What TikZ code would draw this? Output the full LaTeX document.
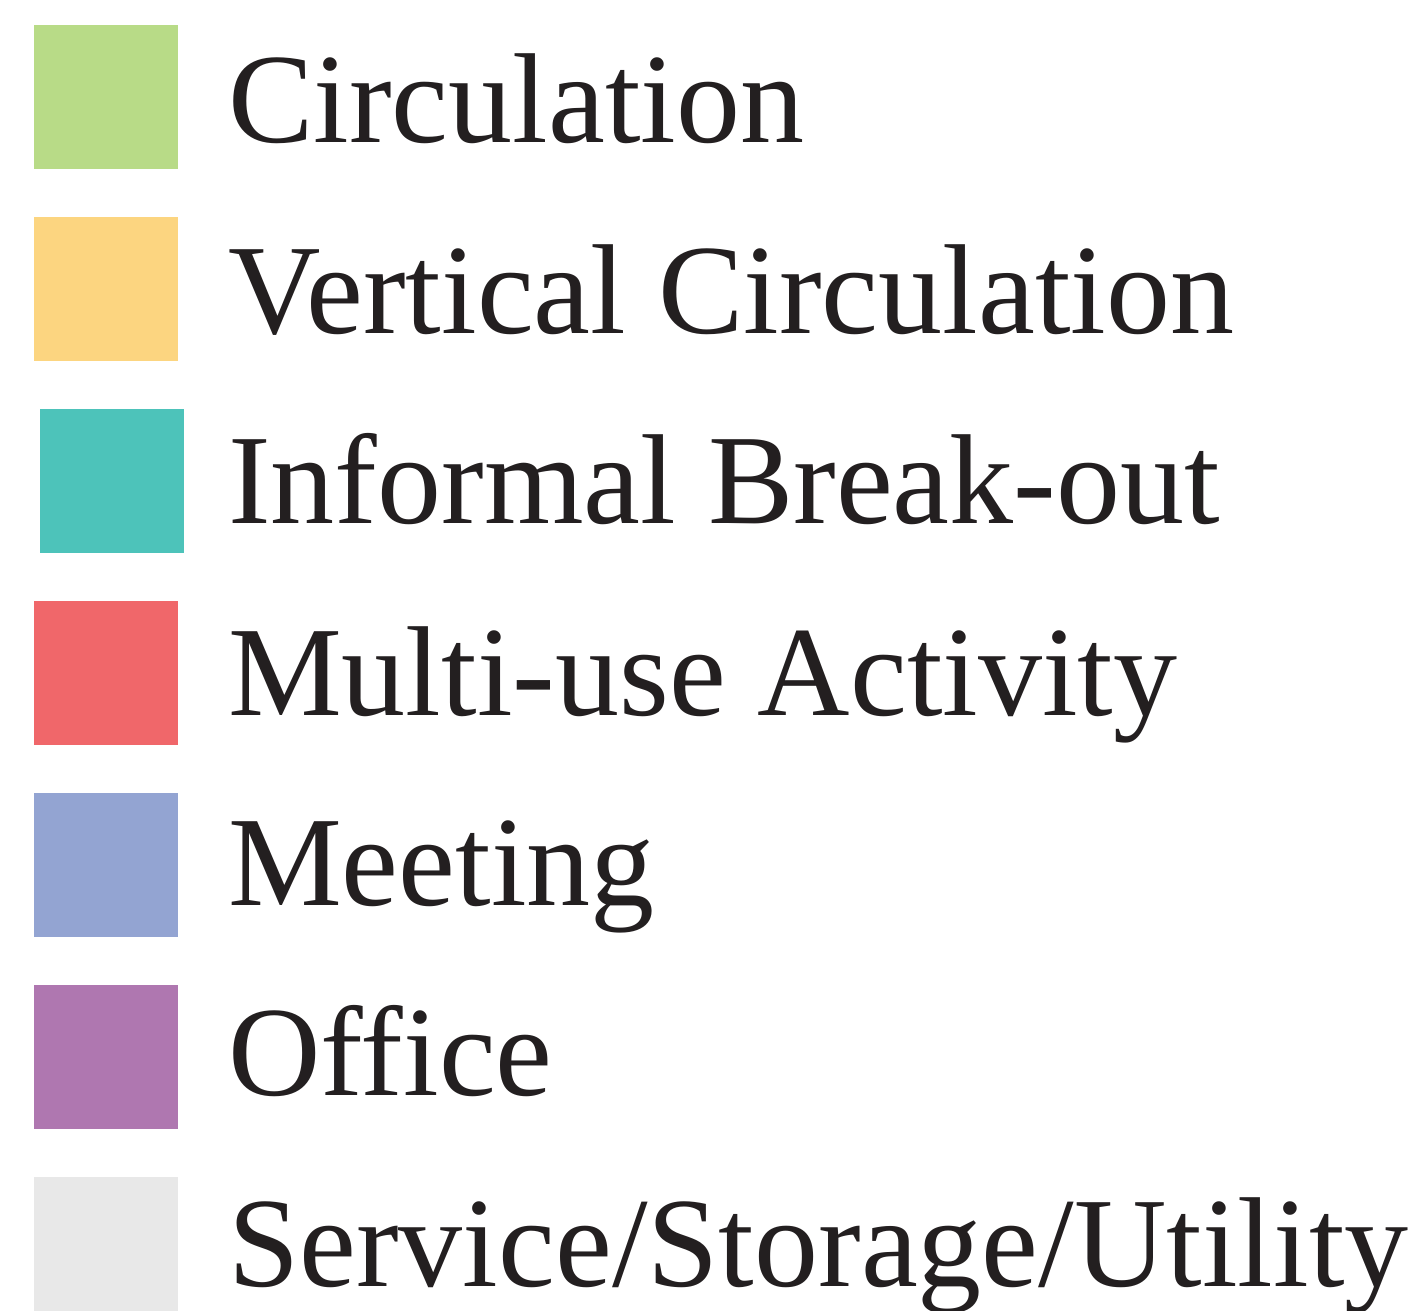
\documentclass[tikz,border=0pt]{standalone}
\usepackage{fontspec}
\setmainfont{Liberation Serif}
\definecolor{cCirc}{HTML}{B8DB87}
\definecolor{cVert}{HTML}{FCD580}
\definecolor{cInf}{HTML}{4DC3BA}
\definecolor{cMulti}{HTML}{F0676A}
\definecolor{cMeet}{HTML}{93A4D2}
\definecolor{cOff}{HTML}{AF77B0}
\definecolor{cServ}{HTML}{E8E8E8}
\definecolor{ink}{HTML}{231F20}
\begin{document}
\begin{tikzpicture}[x=1pt,y=-1pt,
  swatch/.style={draw=none,minimum width=144pt,minimum height=144pt,inner sep=0pt,anchor=north west},
  label/.style={anchor=base west,inner sep=0pt,text=ink,font=\fontsize{128}{140}\selectfont}]
\useasboundingbox[fill=white] (0,0) rectangle (1428,1311);
\node[swatch,fill=cCirc] (s1) at (34,25) {};
\node[swatch,fill=cVert] (s2) at (34,217) {};
\node[swatch,fill=cInf] (s3) at (40,409) {};
\node[swatch,fill=cMulti] (s4) at (34,601) {};
\node[swatch,fill=cMeet] (s5) at (34,793) {};
\node[swatch,fill=cOff] (s6) at (34,985) {};
\node[swatch,fill=cServ] (s7) at (34,1177) {};
\node[label] (t1) at (228,142.5) {Circulation};
\node[label] (t2) at (228,333) {Vertical Circulation};
\node[label] (t3) at (228,523) {Informal Break-out};
\node[label] (t4) at (228,715) {Multi-use Activity};
\node[label] (t5) at (228,905) {Meeting};
\node[label] (t6) at (228,1095) {Office};
\node[label] (t7) at (228,1286) {Service/Storage/Utility};
\end{tikzpicture}
\end{document}
